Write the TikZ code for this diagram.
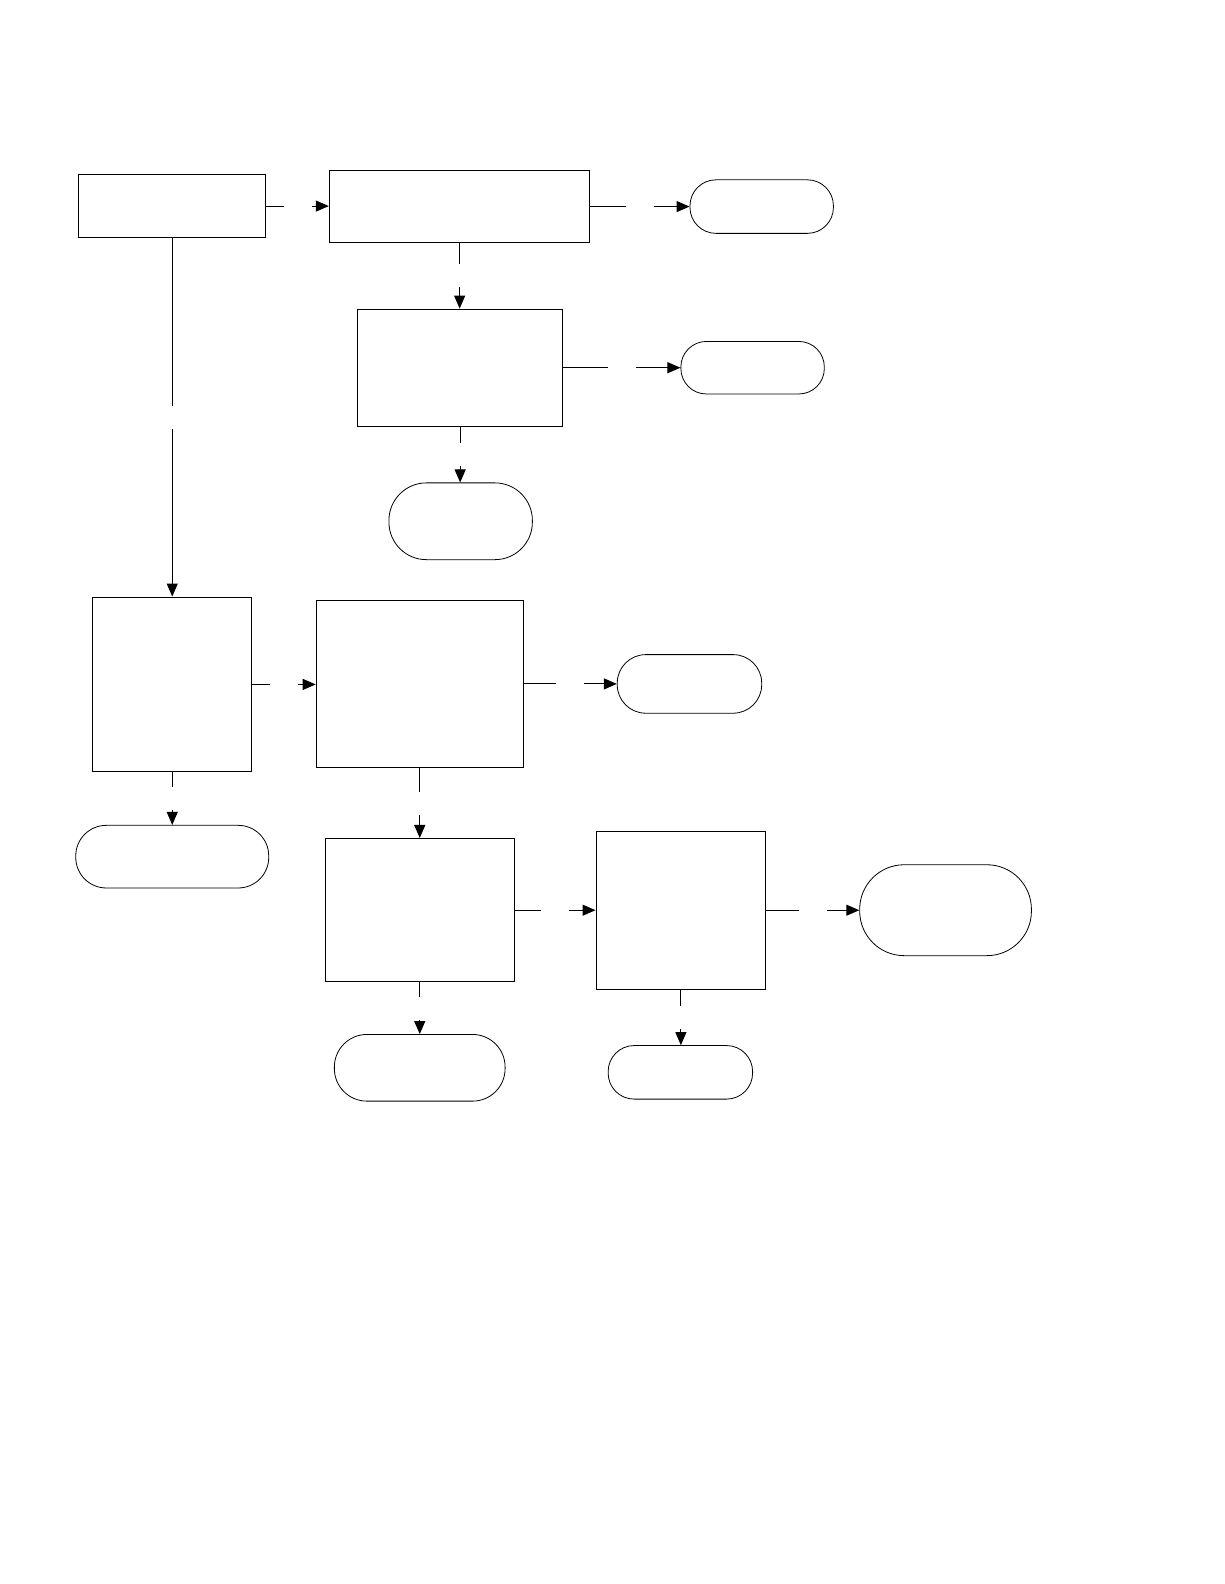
\documentclass[tikz,border=0pt]{standalone}
\usetikzlibrary{arrows.meta,fit}
\begin{document}
\begin{tikzpicture}[x=1.0099pt,y=-1.0099pt,
 box/.style={draw,rectangle,inner sep=0pt,line width=1pt},
 term/.style={draw,rectangle,rounded corners=#1,inner sep=0pt,line width=0.8pt},
 conn/.style={line width=1pt,-{Triangle[length=13pt,width=11pt]}},
 gapx/.style={fill=white,inner sep=0pt,minimum width=28pt,minimum height=4pt},
 gapy/.style={fill=white,inner sep=0pt,minimum width=4pt,minimum height=23pt}]
\fill[white] (0,0) rectangle (1212,1568);
\useasboundingbox (0,0) rectangle (1212,1568);
% rectangles
\node[box,fit={(78,173)(263,235)}] (A) {};
\node[box,fit={(326,169)(584,240)}] (B) {};
\node[box,fit={(354,306)(557,422)}] (C) {};
\node[box,fit={(92,591)(249,764)}] (D) {};
\node[box,fit={(313,594)(518,760)}] (E) {};
\node[box,fit={(322,830)(509,972)}] (F) {};
\node[box,fit={(590,823)(758,979)}] (G) {};
% terminals
\node[term=26pt,fit={(683,178)(825,231)}] (T1) {};
\node[term=25.5pt,fit={(674,338)(816,390)}] (T2) {};
\node[term=37.5pt,fit={(385,478)(527,554)}] (T3) {};
\node[term=28.5pt,fit={(611,648)(754,706)}] (T4) {};
\node[term=30.5pt,fit={(75,817)(266,879)}] (T5) {};
\node[term=44.5pt,fit={(851,856)(1021,946)}] (T6) {};
\node[term=32.5pt,fit={(331,1024)(500,1090)}] (T7) {};
\node[term=26pt,fit={(602,1035)(745,1088)}] (T8) {};
% connectors
\draw[conn] (A.east) -- node[gapx]{} (A.east -| B.west);
\draw[conn] (B.east) -- node[gapx]{} (T1.west);
\draw[conn] (B.south) -- node[gapy]{} (B.south |- C.north);
\draw[conn] (C.east) -- node[gapx]{} (T2.west);
\draw[conn] (C.south) -- node[gapy]{} (C.south |- T3.north);
\draw[conn] (A.south) -- node[gapy]{} (D.north);
\draw[conn] (D.east) -- node[gapx]{} (D.east -| E.west);
\draw[conn] (E.east) -- node[gapx]{} (T4.west);
\draw[conn] (D.south) -- node[gapy]{} (T5.north);
\draw[conn] (E.south) -- node[gapy]{} (F.north);
\draw[conn] (F.east) -- node[gapx]{} (F.east -| G.west);
\draw[conn] (G.east) -- node[gapx]{} (T6.west);
\draw[conn] (F.south) -- node[gapy]{} (T7.north);
\draw[conn] (G.south) -- node[gapy]{} (G.south |- T8.north);
\end{tikzpicture}
\end{document}
